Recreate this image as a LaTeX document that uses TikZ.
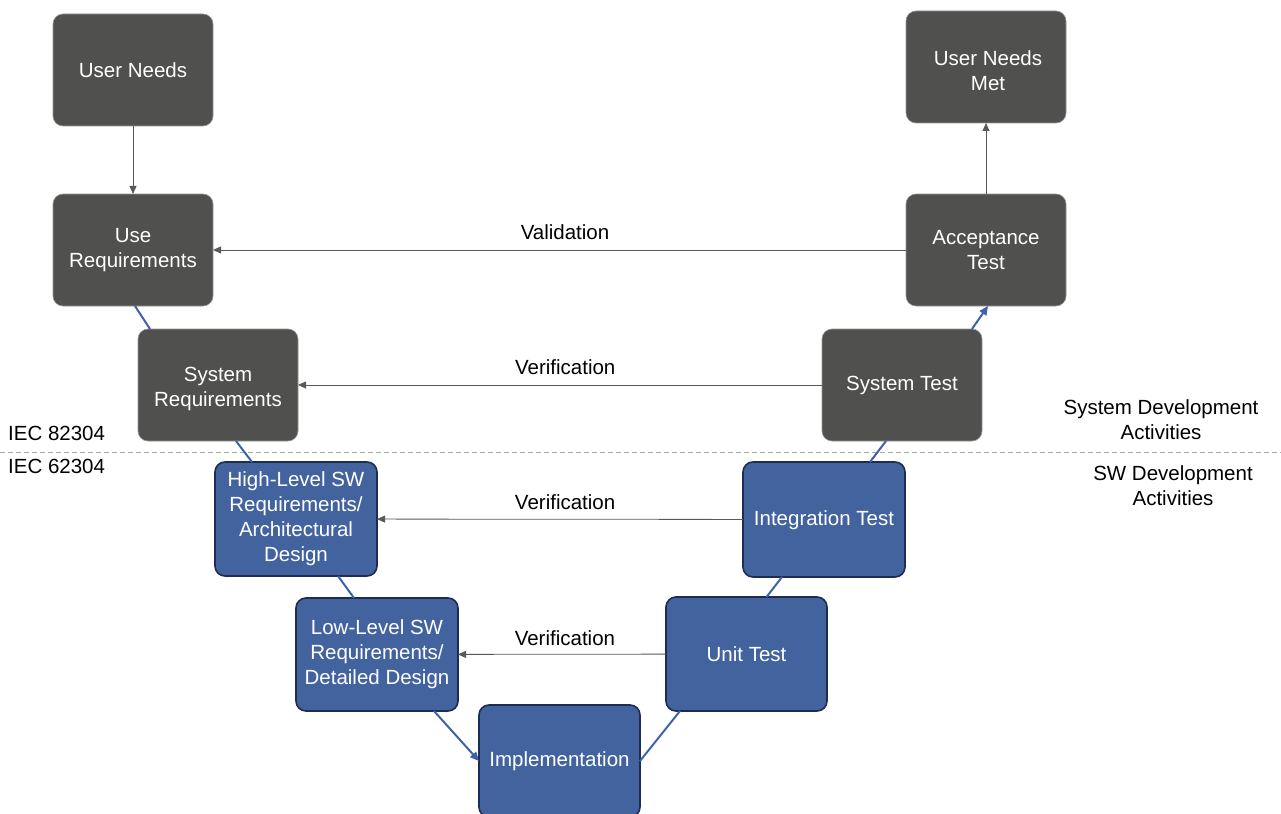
\documentclass[tikz,border=0pt]{standalone}
\usepackage{fontspec}
\setmainfont{Liberation Sans}
\usetikzlibrary{arrows.meta,calc}
\definecolor{boxgray}{RGB}{80,80,78}
\definecolor{boxedge}{RGB}{150,150,150}
\definecolor{boxblue}{RGB}{67,99,159}
\definecolor{bluedge}{RGB}{28,44,82}
\definecolor{vline}{RGB}{62,98,168}
\definecolor{arrgray}{RGB}{89,89,89}
\definecolor{dashgray}{RGB}{170,170,170}
\begin{document}
\begin{tikzpicture}[x=1pt,y=-1pt,
  graybox/.style={rectangle,rounded corners=10pt,fill=boxgray,draw=boxedge,line width=0.6pt,
    minimum width=160pt,minimum height=112pt,inner sep=0pt,outer sep=0pt,
    text=white,align=center,font=\fontsize{20.5}{25}\selectfont},
  bluebox/.style={rectangle,rounded corners=10pt,fill=boxblue,draw=bluedge,line width=1.6pt,
    minimum width=160pt,minimum height=112pt,inner sep=0pt,outer sep=0pt,
    text=white,align=center,font=\fontsize{20.5}{25}\selectfont},
  boxtext/.style={text=white,align=center,font=\fontsize{20.5}{25}\selectfont,inner sep=0pt},
  garrow/.style={draw=arrgray,line width=0.8pt,-{Triangle[length=8pt,width=7pt]}},
  vconn/.style={draw=vline,line width=2pt},
  varrow/.style={draw=vline,line width=2pt,-{Triangle[length=9pt,width=8pt]}},
  lbl/.style={text=black,align=center,font=\fontsize{20.5}{25}\selectfont,inner sep=0pt}]
\useasboundingbox (0,0) rectangle (1281,813);
\clip (0,0) rectangle (1281,813);
% dashed separator
\coordinate (dl) at (0,452);
\coordinate (dr) at (1281,452);
\draw[dashgray,line width=0.8pt,dash pattern=on 5pt off 3pt] (dl) -- (dr);
% nodes
\node[graybox] (un) at (133,70) {User Needs};
\node[graybox] (ureq) at (133,250) {Use\\Requirements};
\node[graybox] (sreq) at (218,385) {};
\node[boxtext] (sreqt) at (218,389) {System\\Requirements};
\node[bluebox,minimum width=162pt,minimum height=114pt] (hl) at (296,519) {High-Level SW\\Requirements/\\Architectural\\Design};
\node[bluebox,minimum width=162pt,minimum height=113pt] (ll) at (377,654.5) {Low-Level SW\\Requirements/\\Detailed Design};
\node[bluebox,minimum width=161pt] (impl) at (559.5,761) {Implementation};
\node[bluebox,minimum width=161pt,minimum height=114pt] (unit) at (746.5,654) {Unit Test};
\node[bluebox,minimum width=162pt,minimum height=115pt] (integ) at (824,519.5) {};
\node[boxtext] (integt) at (824,520) {Integration Test};
\node[graybox] (stest) at (902,385) {System Test};
\node[graybox] (acc) at (986,250) {Acceptance\\Test};
\node[graybox] (unm) at (986,67) {};
\node[boxtext] (unmt) at (988,71) {User Needs\\Met};
% side labels
\node[lbl,anchor=west] (iec1) at (8,433) {IEC 82304};
\node[lbl,anchor=west] (iec2) at (8,466) {IEC 62304};
\node[lbl] (sda) at (1161,420) {System Development\\Activities};
\node[lbl] (swa) at (1173,486) {SW Development\\Activities};
% gray arrows
\draw[garrow] (un) -- (ureq);
\draw[garrow] (acc) -- (unm);
\draw[garrow] (acc) -- node[lbl,above=10pt,pos=0.492] (vl) {Validation} (ureq);
\draw[garrow] (stest) -- node[lbl,above=10pt,pos=0.49] (v1) {Verification} (sreq);
\draw[garrow] (integ) -- node[lbl,above=9pt,pos=0.486] (v2) {Verification} (hl);
\draw[garrow] (unit) -- node[lbl,above=8pt,pos=0.486] (v3) {Verification} (ll);
% V connectors
\draw[vconn] ([xshift=2pt]ureq.south) -- ([xshift=12pt]sreq.north west);
\draw[vconn] ([xshift=18pt]sreq.south) -- ([xshift=37pt]hl.north west);
\draw[vconn] ([xshift=42pt]hl.south) -- ([xshift=58pt]ll.north west);
\draw[varrow] ([xshift=57pt]ll.south) -- (impl.west);
\draw[vconn] (impl.east) -- ([xshift=14pt]unit.south west);
\draw[vconn] ([xshift=20pt]unit.north) -- ([xshift=39pt]integ.south west);
\draw[vconn] ([xshift=46pt]integ.north) -- ([xshift=64pt]stest.south west);
\draw[varrow] ([xshift=70pt]stest.north) -- ([xshift=2pt]acc.south);
\end{tikzpicture}
\end{document}
